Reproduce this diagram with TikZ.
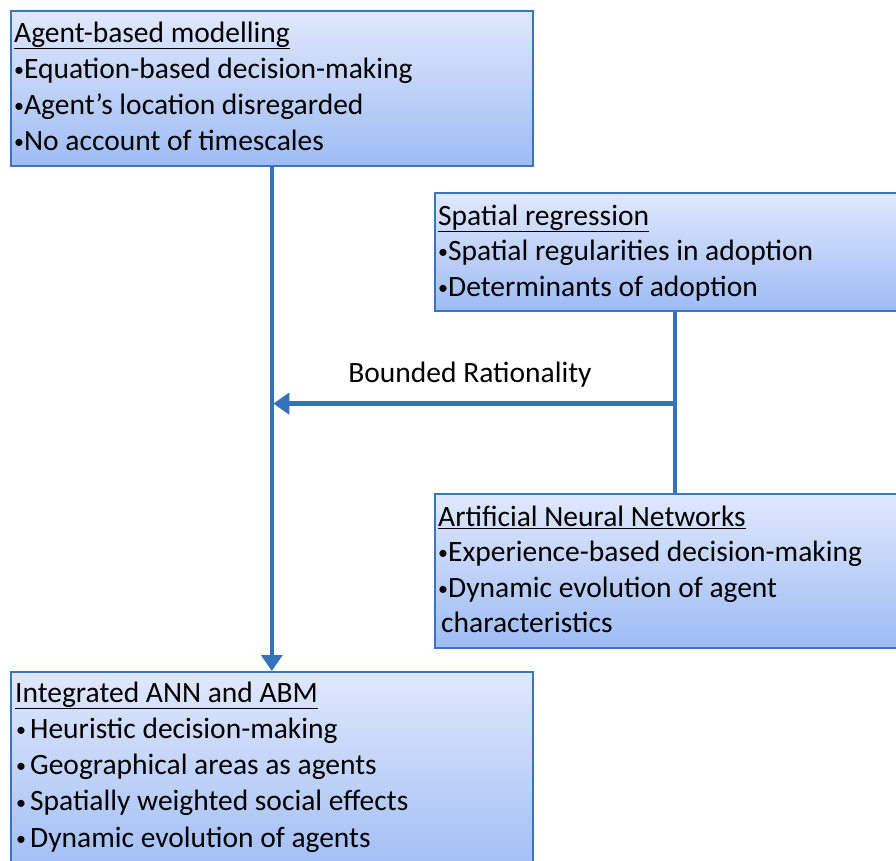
\documentclass[tikz,border=0pt]{standalone}
\usepackage{fontspec}
\setmainfont{Carlito}
\usetikzlibrary{arrows.meta}
\definecolor{boxedge}{RGB}{58,118,190}
\definecolor{flow}{RGB}{52,114,186}
\definecolor{shadetop}{RGB}{224,232,252}
\definecolor{shadebot}{RGB}{158,188,244}
% small list bullet
\newcommand\blt{\raisebox{1.8pt}{\fontsize{20}{20}\selectfont•}}
\begin{document}
\begin{tikzpicture}[x=1pt,y=-1pt,
  panel/.style={rectangle,draw=boxedge,line width=1.6pt,top color=shadetop,
    bottom color=shadebot,inner sep=0pt,anchor=north west},
  body/.style={anchor=north west,align=left,inner sep=0pt,
    font=\fontsize{29.5}{36}\selectfont},
  link/.style={draw=flow,line width=3.5pt},
  tip/.style={-{Triangle[length=16pt,width=21pt]}}
]
\clip (0,0) rectangle (896,860);

% boxes
\node[panel,minimum width=522pt,minimum height=155pt] (abm) at (10,10) {};
\node[panel,minimum width=480pt,minimum height=118pt] (sr)  at (434,192) {};
\node[panel,minimum width=480pt,minimum height=154pt] (ann) at (434,493) {};
\node[panel,minimum width=522pt,minimum height=210pt] (int) at (10,671) {};

% box texts
\node[body] (abmtext) at (14,20) {\rule{0pt}{22pt}\underline{Agent-based modelling}\\
  \blt Equation-based decision-making\\
  \blt Agent’s location disregarded\\
  \blt No account of timescales};
\node[body,font=\fontsize{29.5}{35.5}\selectfont] (srtext) at (438,203) {\rule{0pt}{22pt}\underline{Spatial regression}\\
  \blt Spatial regularities in adoption\\
  \blt Determinants of adoption};
\node[body,font=\fontsize{29.5}{35.5}\selectfont] (anntext) at (438,504) {\rule{0pt}{22pt}\underline{Artificial Neural Networks}\\
  \blt Experience-based decision-making\\
  \blt Dynamic evolution of agent\\
  \hspace*{3pt}characteristics};
\node[body,font=\fontsize{29.5}{36.2}\selectfont] (inttext) at (15,680) {\rule{0pt}{22pt}\underline{Integrated ANN and ABM}\\
  \hspace*{1pt}\blt\hspace{4pt}Heuristic decision-making\\
  \hspace*{1pt}\blt\hspace{4pt}Geographical areas as agents\\
  \hspace*{1pt}\blt\hspace{4pt}Spatially weighted social effects\\
  \hspace*{1pt}\blt\hspace{4pt}Dynamic evolution of agents};

% connectors
\draw[link,tip] (abm.south) -- (int.north);
\draw[link] (sr.south) -- (ann.north);
\path (sr.south) ++(0,92) coordinate (tap);
\draw[link,line width=4.5pt,tip,shorten >=1.5pt] (tap) -- (tap -| abm.south);
\node[font=\fontsize{29.5}{36}\selectfont,anchor=base] (bounded) at (470,382) {Bounded Rationality};
\end{tikzpicture}
\end{document}
